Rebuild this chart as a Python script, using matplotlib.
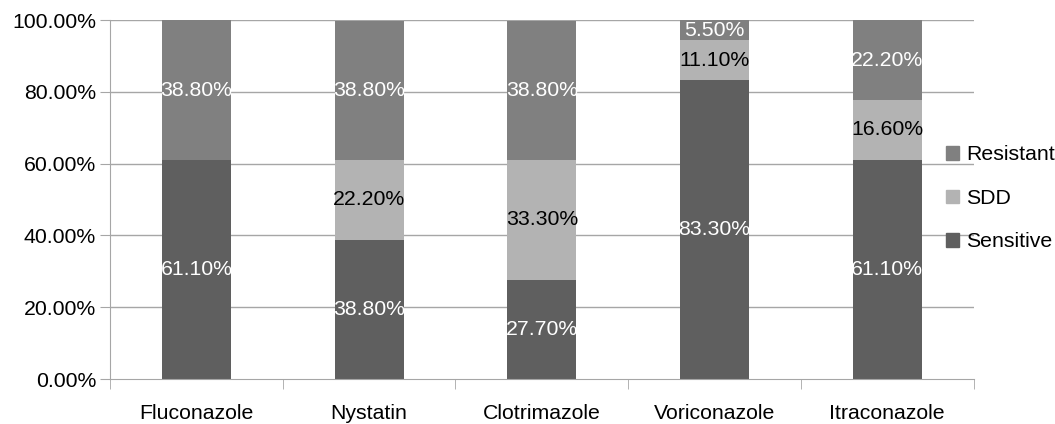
import matplotlib.pyplot as plt
from matplotlib.patches import Patch
import numpy as np

plt.rcParams['font.family'] = ['Liberation Sans', 'DejaVu Sans']

drugs = ['Fluconazole', 'Nystatin', 'Clotrimazole', 'Voriconazole', 'Itraconazole']
sensitive = [61.1, 38.8, 27.7, 83.3, 61.1]
sdd = [0.0, 22.2, 33.3, 11.1, 16.6]
resistant = [38.8, 38.8, 38.8, 5.5, 22.2]
yticks = [0, 20, 40, 60, 80, 100]

c_sens = '#5f5f5f'
c_sdd = '#b3b3b3'
c_res = '#808080'
grid_c = '#a6a6a6'
fs = 15.3

fig = plt.figure(figsize=(10.55, 4.24), dpi=100)
ax = fig.add_axes([0.1043, 0.1061, 0.8185, 0.8467])

x = np.arange(len(drugs))
w = 0.4
s = np.array(sensitive)
d = np.array(sdd)
r = np.array(resistant)
ax.bar(x, s, w, color=c_sens, zorder=2)
ax.bar(x, d, w, bottom=s, color=c_sdd, zorder=2)
ax.bar(x, r, w, bottom=s + d, color=c_res, zorder=2)

for i in range(len(drugs)):
    ax.text(x[i], s[i] / 2, '%.2f%%' % s[i], ha='center', va='center',
            color='white', fontsize=fs, zorder=3)
    if d[i] > 0:
        ax.text(x[i], s[i] + d[i] / 2, '%.2f%%' % d[i], ha='center', va='center',
                color='black', fontsize=fs, zorder=3)
    ax.text(x[i], s[i] + d[i] + r[i] / 2, '%.2f%%' % r[i], ha='center', va='center',
            color='white', fontsize=fs, zorder=3)

ax.set_ylim(0, 100)
ax.set_xlim(-0.5, len(drugs) - 0.5)
ax.set_yticks(yticks)
ax.set_yticklabels(['%.2f%%' % v for v in yticks], fontsize=fs)
for v in yticks[1:]:
    ax.axhline(v, color=grid_c, lw=1, zorder=1)

ax.set_xticks(x)
ax.set_xticklabels(drugs, fontsize=fs)
ax.set_xticks(np.arange(len(drugs) + 1) - 0.5, minor=True)
ax.tick_params(axis='x', which='major', length=0, pad=18)
ax.tick_params(axis='x', which='minor', length=7, color=grid_c, direction='out')
ax.tick_params(axis='y', length=7, color=grid_c, direction='out', pad=3)

for side in ['top', 'right']:
    ax.spines[side].set_visible(False)
for side in ['left', 'bottom']:
    ax.spines[side].set_color(grid_c)

handles = [Patch(color=c_res, label='Resistant'),
           Patch(color=c_sdd, label='SDD'),
           Patch(color=c_sens, label='Sensitive')]
fig.legend(handles=handles, loc='center left', bbox_to_anchor=(0.8887, 0.532),
           frameon=False, fontsize=fs, handlelength=0.6, handleheight=0.6,
           handletextpad=0.33, labelspacing=1.15, borderaxespad=0)

fig.savefig('out.png', dpi=100)
